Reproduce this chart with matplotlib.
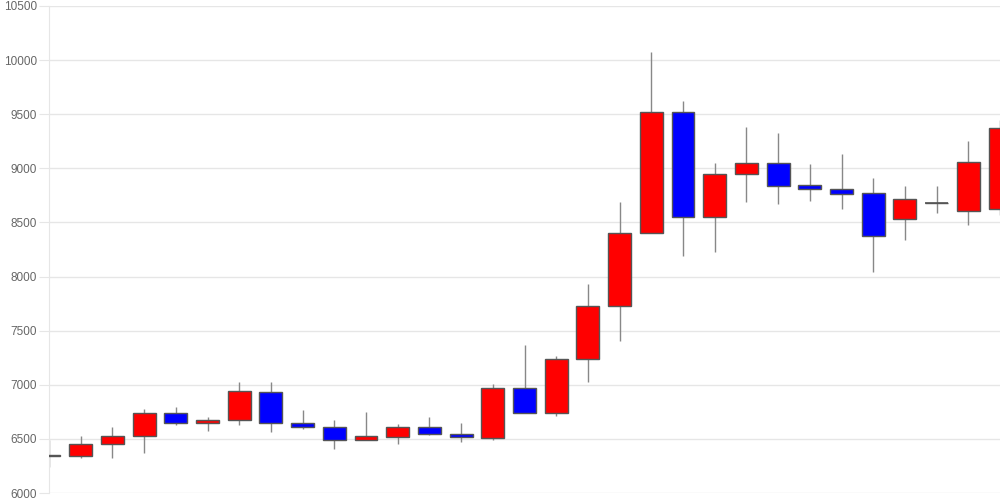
import matplotlib
matplotlib.use("Agg")
import matplotlib.pyplot as plt
import numpy as np

opens = [6340, 6345, 6455, 6524, 6736, 6644, 6672, 6936, 6647, 6607,
         6492, 6520, 6607, 6545, 6511, 6967, 6736, 7235, 7725, 8399,
         9520, 8547, 8948, 9049, 8843, 8809, 8772, 8529, 8680, 8609, 8621]
closes = [6355, 6455, 6527, 6736, 6644, 6672, 6945, 6644, 6607, 6492,
          6527, 6607, 6542, 6515, 6967, 6736, 7235, 7725, 8399, 9520,
          8547, 8948, 9049, 8837, 8806, 8766, 8375, 8717, 8680, 9058, 9370]
highs = [6490, 6530, 6610, 6773, 6792, 6700, 7023, 7023, 6767, 6675,
         6748, 6635, 6702, 6644, 7007, 7368, 7266, 7928, 8686, 10078,
         9622, 9046, 9379, 9329, 9040, 9130, 8911, 8834, 8834, 9250, 9447]
lows = [6240, 6325, 6323, 6372, 6631, 6576, 6626, 6564, 6594, 6404,
        6490, 6453, 6540, 6474, 6492, 6736, 6714, 7023, 7407, 8399,
        8193, 8227, 8689, 8668, 8698, 8621, 8042, 8338, 8590, 8479, 8570]
yticks = [6000, 6500, 7000, 7500, 8000, 8500, 9000, 9500, 10000, 10500]

plt.rcParams['font.family'] = ['Liberation Sans', 'DejaVu Sans']

fig = plt.figure(figsize=(10, 5), dpi=100)
ax = fig.add_axes([0.049, 0.014, 0.951, 0.974])

x = np.arange(len(opens))
o = np.array(opens)
c = np.array(closes)
colors = np.where(c > o, 'red', np.where(c < o, 'blue', '#555555'))

# wicks then bodies
ax.vlines(x, lows, highs, color='#888888', linewidth=1, zorder=2)
bottoms = np.minimum(o, c)
heights = np.abs(c - o)
ax.bar(x, heights, bottom=bottoms, width=0.72, color=colors,
       edgecolor='#555555', linewidth=1, zorder=3)
for i in x:
    if opens[i] == closes[i]:
        ax.hlines(opens[i], i - 0.36, i + 0.36, color='#555555', linewidth=1.2, zorder=3)

ax.set_xlim(0, len(opens) - 1)
ax.set_ylim(6000, 10500)
ax.set_yticks(yticks)
ax.set_xticks([])
ax.grid(axis='y', color='#e6e6e6', linewidth=1)
ax.set_axisbelow(True)
for s in ['top', 'right', 'bottom']:
    ax.spines[s].set_visible(False)
ax.spines['left'].set_color('#e6e6e6')
ax.tick_params(axis='y', length=7, color='#e6e6e6', labelcolor='#666666',
               labelsize=8.5, pad=1.5)

fig.savefig('out.png', dpi=100)
